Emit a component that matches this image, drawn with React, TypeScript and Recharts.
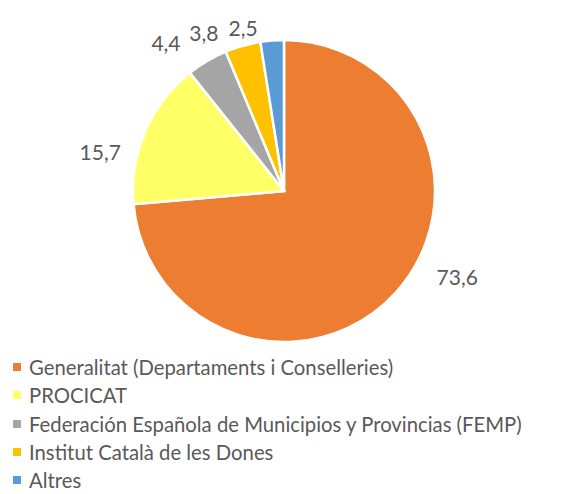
import { PieChart, Pie, Cell, Legend } from "recharts"

const labels = [
  "Generalitat (Departaments i Conselleries)",
  "PROCICAT",
  "Federación Española de Municipios y Provincias (FEMP)",
  "Institut Català de les Dones",
  "Altres",
]
const values = [73.6, 15.7, 4.4, 3.8, 2.5]
const colors = ["#ED7D31", "#FFFF66", "#A5A5A5", "#FFC000", "#5B9BD5"]

// Excel "best fit" label placement: small angle / radius shifts per slice
const labelAngleShift = [16.3, 11, 7.8, 10.9, 9.5]
const labelRadiusGap = [42, 37, 39, 27, 18]

const data = labels.map((name, i) => ({ name, value: values[i] }))

const fmt = (n: number) => n.toFixed(1).replace(".", ",")
const RAD = Math.PI / 180
const textColor = "#595959"
const font = "Lato, 'Open Sans', sans-serif"

const renderLabel = (p: any) => {
  const a = (p.midAngle + labelAngleShift[p.index]) * RAD
  const r = p.outerRadius + labelRadiusGap[p.index]
  const x = p.cx + r * Math.cos(-a)
  const y = p.cy + r * Math.sin(-a)
  return (
    <text x={x} y={y} textAnchor="middle" dominantBaseline="central"
      fill={textColor} fontSize={21} fontFamily={font}>
      {fmt(p.value)}
    </text>
  )
}

const renderLegend = (props: any) => (
  <div style={{ fontFamily: font, fontSize: 20.3, color: textColor }}>
    {props.payload.map((e: any, i: number) => (
      <div key={i} style={{ display: "flex", alignItems: "center", height: 28.3 }}>
        <span style={{ width: 8, height: 8, background: e.color, marginRight: 8, display: "inline-block" }} />
        <span>{e.value}</span>
      </div>
    ))}
  </div>
)

export default function App() {
  return (
    <div style={{ position: "fixed", left: 0, top: 0, background: "#fff" }}>
      <PieChart width={576} height={494} margin={{ top: 0, right: 0, bottom: 0, left: 0 }}>
        <Pie data={data} dataKey="value" nameKey="name" cx={284} cy={191}
          outerRadius={151} startAngle={90} endAngle={-270}
          stroke="#fff" strokeWidth={2.5} label={renderLabel} labelLine={false}
          isAnimationActive={false}>
          {data.map((_, i) => <Cell key={i} fill={colors[i]} />)}
        </Pie>
        <Legend content={renderLegend} layout="horizontal" verticalAlign="bottom" align="left"
          itemSorter={null as any}
          wrapperStyle={{ left: 13, top: 353, width: 560, bottom: "auto" }} />
      </PieChart>
    </div>
  )
}
